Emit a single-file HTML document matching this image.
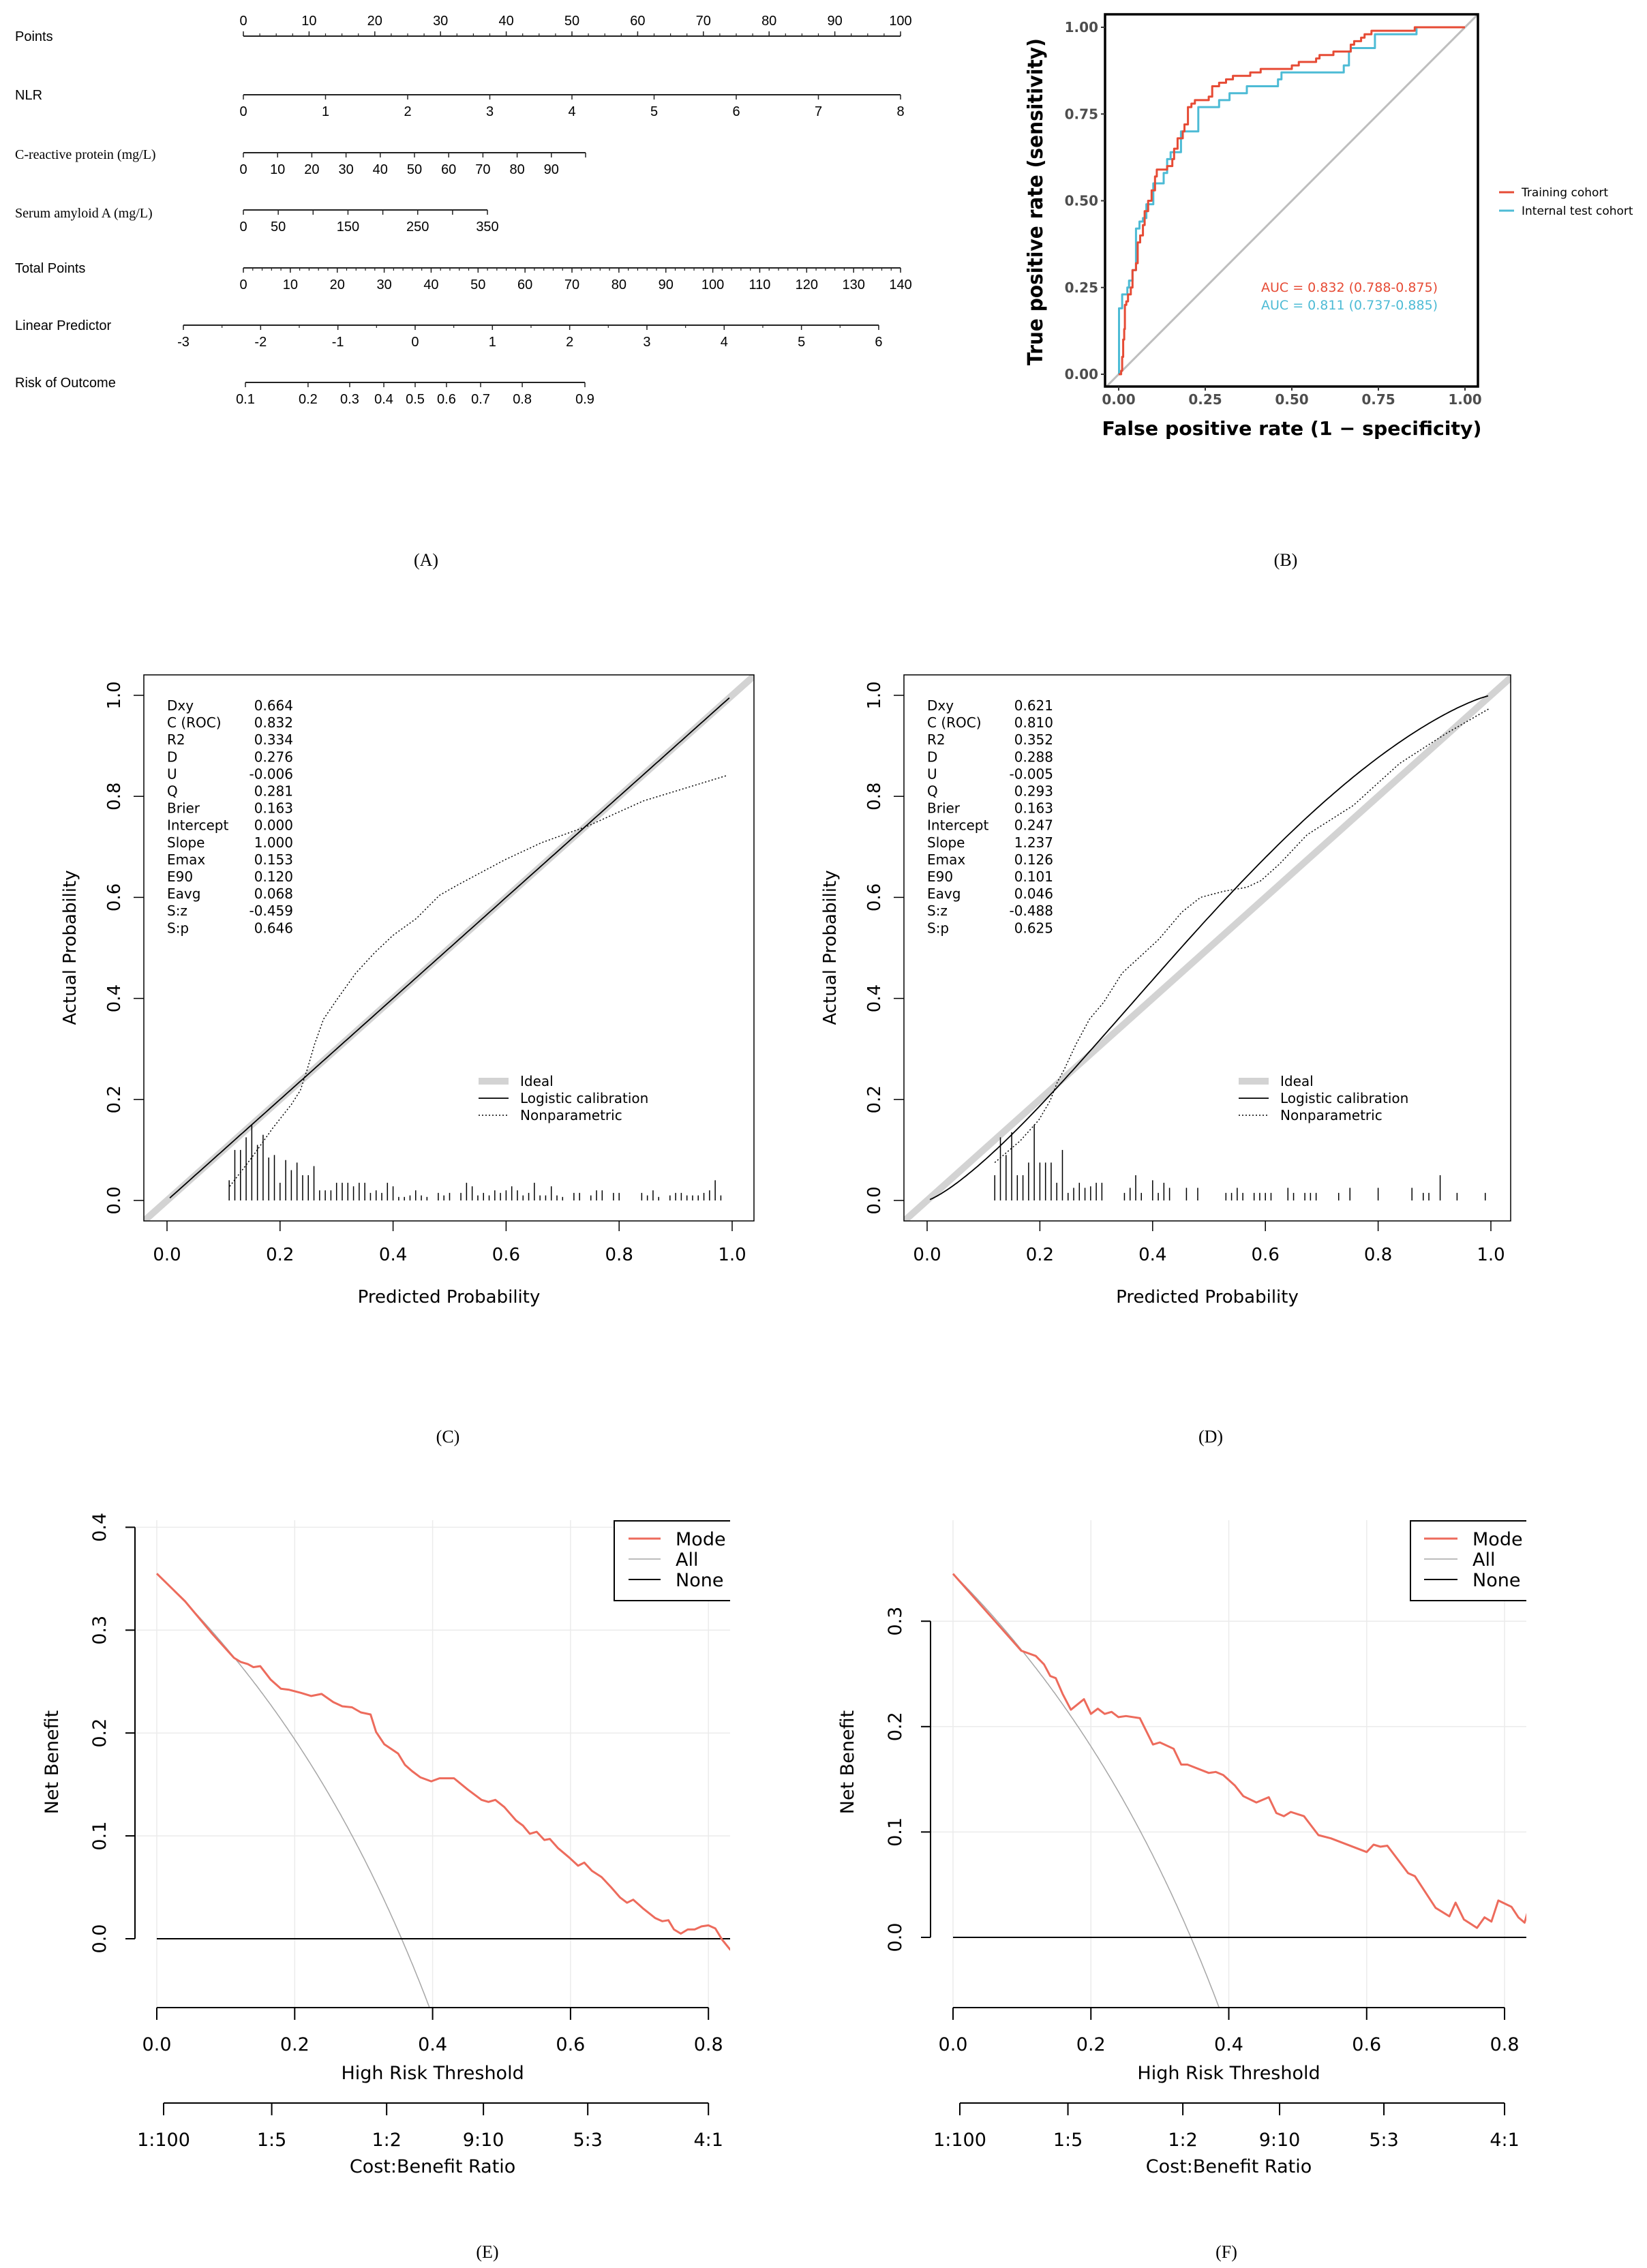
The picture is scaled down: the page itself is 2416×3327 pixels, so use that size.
<!DOCTYPE html>
<html><head><meta charset="utf-8"><title>Nomogram, ROC, calibration and decision curves</title>
<style>html,body{margin:0;padding:0;background:#fff;width:2416px;height:3327px;overflow:hidden;position:relative}#fig{position:absolute;left:0;top:0;display:block}</style></head>
<body><svg id="fig" xmlns="http://www.w3.org/2000/svg" width="2416" height="3327" viewBox="0 0 2416 3327">
<rect x="0" y="0" width="2416" height="3327" fill="#fff"/>
<defs>
<clipPath id="clipRoc"><rect x="1621" y="21" width="547" height="546"/></clipPath>
<clipPath id="clipC"><rect x="211" y="990" width="895" height="801"/></clipPath>
<clipPath id="clipD"><rect x="1326" y="990" width="890" height="801"/></clipPath>
<clipPath id="clipE"><rect x="198" y="2200" width="873" height="745"/></clipPath>
<clipPath id="clipF"><rect x="1365" y="2200" width="874" height="745"/></clipPath>
</defs>
</svg><script>
// ---------- DATA ----------
const pointsTicks=[0,10,20,30,40,50,60,70,80,90,100];
const nlrTicks=[0,1,2,3,4,5,6,7,8];
const crpTicks=[0,10,20,30,40,50,60,70,80,90];
const crpMax=100;
const saaTicks=[0,50,100,150,200,250,300,350];
const saaLabels=[0,50,150,250,350];
const totalTicks=[0,10,20,30,40,50,60,70,80,90,100,110,120,130,140];
const lpTicks=[-3,-2,-1,0,1,2,3,4,5,6];
const riskTicks=[0.1,0.2,0.3,0.4,0.5,0.6,0.7,0.8,0.9];
const rocTrainFpr=[0,0.007,0.01,0.013,0.016,0.018,0.022,0.027,0.035,0.04,0.05,0.055,0.062,0.07,0.075,0.085,0.095,0.105,0.11,0.135,0.14,0.155,0.16,0.17,0.185,0.19,0.2,0.21,0.22,0.26,0.27,0.29,0.31,0.33,0.37,0.38,0.41,0.48,0.5,0.52,0.55,0.57,0.58,0.62,0.66,0.67,0.68,0.7,0.71,0.73,0.85,0.855,1];
const rocTrainTpr=[0,0.01,0.05,0.1,0.13,0.2,0.21,0.23,0.25,0.3,0.32,0.38,0.4,0.43,0.47,0.5,0.53,0.57,0.59,0.59,0.6,0.62,0.65,0.68,0.7,0.72,0.77,0.78,0.79,0.8,0.83,0.84,0.85,0.86,0.86,0.87,0.88,0.88,0.89,0.9,0.9,0.91,0.92,0.93,0.93,0.95,0.96,0.97,0.98,0.99,0.99,1,1];
const rocTestFpr=[0,0.001,0.01,0.025,0.03,0.04,0.05,0.06,0.07,0.08,0.1,0.13,0.14,0.15,0.18,0.23,0.29,0.32,0.37,0.46,0.47,0.65,0.665,0.67,0.74,0.86,1];
const rocTestTpr=[0,0.19,0.23,0.25,0.27,0.3,0.42,0.44,0.45,0.49,0.55,0.58,0.62,0.64,0.7,0.77,0.79,0.81,0.83,0.85,0.87,0.89,0.93,0.94,0.98,1,1];
const statNames=["Dxy","C (ROC)","R2","D","U","Q","Brier","Intercept","Slope","Emax","E90","Eavg","S:z","S:p"];
const statsC=["0.664","0.832","0.334","0.276","-0.006","0.281","0.163","0.000","1.000","0.153","0.120","0.068","-0.459","0.646"];
const statsD=["0.621","0.810","0.352","0.288","-0.005","0.293","0.163","0.247","1.237","0.126","0.101","0.046","-0.488","0.625"];
const calTicks=[0,0.2,0.4,0.6,0.8,1.0];
const npCx=[0.111,0.15,0.187,0.22,0.236,0.248,0.261,0.277,0.302,0.334,0.367,0.4,0.441,0.482,0.515,0.597,0.662,0.744,0.843,0.99];
const npCy=[0.028,0.085,0.143,0.19,0.218,0.259,0.309,0.359,0.4,0.45,0.49,0.525,0.558,0.604,0.625,0.674,0.708,0.741,0.791,0.841];
const histCx=[0.11,0.12,0.13,0.14,0.15,0.16,0.17,0.18,0.19,0.2,0.21,0.22,0.23,0.24,0.25,0.26,0.27,0.28,0.29,0.3,0.31,0.32,0.33,0.34,0.35,0.36,0.37,0.38,0.39,0.4,0.41,0.42,0.43,0.44,0.45,0.46,0.48,0.49,0.5,0.52,0.53,0.54,0.55,0.56,0.57,0.58,0.59,0.6,0.61,0.62,0.63,0.64,0.65,0.66,0.67,0.68,0.69,0.7,0.72,0.73,0.75,0.76,0.77,0.79,0.8,0.84,0.85,0.86,0.87,0.89,0.9,0.91,0.92,0.93,0.94,0.95,0.96,0.97,0.98];
const histCh=[0.04,0.1,0.1,0.125,0.15,0.11,0.13,0.085,0.09,0.035,0.08,0.06,0.075,0.05,0.05,0.068,0.02,0.02,0.02,0.035,0.035,0.035,0.028,0.035,0.035,0.015,0.02,0.015,0.035,0.028,0.007,0.007,0.01,0.02,0.01,0.007,0.015,0.01,0.015,0.015,0.035,0.028,0.01,0.015,0.01,0.02,0.015,0.02,0.028,0.02,0.01,0.015,0.035,0.01,0.01,0.028,0.01,0.007,0.015,0.015,0.01,0.02,0.02,0.015,0.015,0.015,0.01,0.02,0.007,0.01,0.015,0.015,0.01,0.01,0.01,0.015,0.02,0.04,0.01];
const npDx=[0.12,0.165,0.198,0.218,0.231,0.243,0.264,0.288,0.313,0.346,0.378,0.411,0.452,0.485,0.526,0.567,0.592,0.625,0.674,0.756,0.838,0.92,0.996];
const npDy=[0.075,0.118,0.159,0.197,0.234,0.259,0.309,0.359,0.392,0.45,0.483,0.517,0.571,0.6,0.612,0.62,0.633,0.666,0.724,0.782,0.865,0.924,0.973];
const histDx=[0.12,0.13,0.14,0.15,0.16,0.17,0.18,0.19,0.2,0.21,0.22,0.23,0.24,0.25,0.26,0.27,0.28,0.29,0.3,0.31,0.35,0.36,0.37,0.38,0.4,0.41,0.42,0.43,0.46,0.48,0.53,0.54,0.55,0.56,0.58,0.59,0.6,0.61,0.64,0.65,0.67,0.68,0.69,0.73,0.75,0.8,0.86,0.88,0.89,0.91,0.94,0.99];
const histDh=[0.05,0.125,0.09,0.135,0.05,0.05,0.075,0.15,0.075,0.075,0.075,0.035,0.1,0.015,0.025,0.035,0.025,0.028,0.035,0.035,0.015,0.025,0.05,0.015,0.04,0.015,0.035,0.025,0.025,0.025,0.015,0.015,0.025,0.015,0.015,0.015,0.015,0.015,0.025,0.015,0.015,0.015,0.015,0.015,0.025,0.025,0.025,0.015,0.015,0.05,0.015,0.015];
const dcaXTicks=[0,0.2,0.4,0.6,0.8];
const cbLabels=["1:100","1:5","1:2","9:10","5:3","4:1"];
const cbThresh=[1/101,1/6,1/3,9/19,5/8,0.8];
const prevE=0.355;
const prevF=0.345;
const modelEt=[0,0.041,0.081,0.112,0.122,0.132,0.14,0.15,0.165,0.18,0.192,0.209,0.224,0.239,0.256,0.269,0.283,0.296,0.31,0.318,0.33,0.35,0.36,0.37,0.382,0.398,0.41,0.431,0.451,0.471,0.481,0.491,0.504,0.521,0.531,0.541,0.551,0.562,0.57,0.582,0.598,0.611,0.62,0.631,0.645,0.659,0.672,0.682,0.691,0.706,0.723,0.733,0.742,0.75,0.76,0.77,0.78,0.79,0.8,0.81,0.82,0.832];
const modelEnb=[0.355,0.328,0.296,0.273,0.269,0.267,0.264,0.265,0.252,0.243,0.242,0.239,0.236,0.238,0.23,0.226,0.225,0.22,0.218,0.201,0.189,0.18,0.169,0.163,0.157,0.153,0.156,0.156,0.145,0.135,0.133,0.135,0.128,0.115,0.11,0.102,0.104,0.096,0.097,0.088,0.079,0.071,0.074,0.066,0.06,0.05,0.04,0.035,0.038,0.029,0.02,0.017,0.018,0.009,0.005,0.009,0.009,0.012,0.013,0.01,-0.001,-0.011];
const modelFt=[0,0.099,0.12,0.132,0.141,0.149,0.159,0.171,0.19,0.2,0.21,0.22,0.23,0.24,0.251,0.271,0.29,0.3,0.32,0.331,0.34,0.371,0.381,0.392,0.409,0.421,0.44,0.458,0.469,0.48,0.49,0.509,0.53,0.548,0.6,0.61,0.62,0.63,0.66,0.67,0.7,0.72,0.729,0.741,0.76,0.771,0.781,0.791,0.81,0.82,0.829,0.833];
const modelFnb=[0.345,0.272,0.267,0.259,0.248,0.246,0.231,0.216,0.226,0.212,0.217,0.212,0.214,0.209,0.21,0.208,0.183,0.185,0.179,0.164,0.164,0.156,0.157,0.154,0.144,0.134,0.128,0.133,0.118,0.115,0.119,0.115,0.097,0.094,0.081,0.088,0.086,0.087,0.061,0.058,0.028,0.02,0.033,0.017,0.009,0.019,0.015,0.035,0.029,0.019,0.014,0.023];

// ---------- HELPERS ----------
const NS='http://www.w3.org/2000/svg';
const svg=document.getElementById('fig');
function add(tag,name){
  const el=document.createElementNS(NS,tag);
  
  
  svg.appendChild(el);
  return el;
}
function set(el,o){for(const k in o)el.setAttribute(k,o[k]);return el;}
function line(x1,y1,x2,y2,stroke,w,name,extra){
  const el=add('line',name);
  set(el,{x1:x1,y1:y1,x2:x2,y2:y2,stroke:stroke,'stroke-width':w});
  if(extra)set(el,extra);
  return el;
}
function txt(x,y,s,size,anchor,name,extra){
  const el=add('text',name);
  set(el,{x:x,y:y,'font-size':size,'text-anchor':anchor||'start','font-family':'"DejaVu Sans","Liberation Sans",sans-serif',fill:'#000'});
  if(extra)set(el,extra);
  el.textContent=s;
  return el;
}
function path(d,stroke,w,name,extra){
  const el=add('path',name);
  set(el,{d:d,stroke:stroke,'stroke-width':w,fill:'none','stroke-linejoin':'round'});
  if(extra)set(el,extra);
  return el;
}
function poly(xs,ys,fx,fy){return xs.map((v,i)=>(i?'L':'M')+fx(v).toFixed(1)+' '+fy(ys[i]).toFixed(1)).join(' ');}

// ---------- PANEL A ----------
const NF='"Liberation Sans","DejaVu Sans",sans-serif';
const SF='"Liberation Serif","DejaVu Serif",serif';
function rowLabel(y,s,name,serif){txt(22,y,s,20,'start',name,{'font-family':serif?SF:NF});}
function nomoAxis(y,ticks,labels,scale,name,up,minorStep,minorFrom,minorTo){
  const x0=scale(ticks[0]), x1=scale(ticks[ticks.length-1]);
  line(x0,y,x1,y,'#222',2,name+'-line');
  const d=up?-7:7;
  ticks.forEach(v=>{line(scale(v),y,scale(v),y+d,'#222',1.5,name+'-tick');});
  if(minorStep){for(let v=minorFrom;v<=minorTo+1e-9;v+=minorStep){line(scale(v),y,scale(v),y+(up?-4:4),'#222',1.2,name+'-minor-tick');}}
  labels.forEach(v=>{txt(scale(v),up?y-16:y+31,String(v),20,'middle',name+'-tick-label',{'font-family':NF});});
}
const sPts=v=>357+v*9.64;
const sNlr=v=>357+v*120.5;
const sCrp=v=>357+v*5.02;
const sSaa=v=>357+v*1.0229;
const sTot=v=>357+v*6.886;
const sLp=v=>269+(v+3)*113.33;
const sRisk=p=>sLp(Math.log(p/(1-p)));
rowLabel(60,'Points','points-row-label');
nomoAxis(53,pointsTicks,pointsTicks,sPts,'points-axis',true,2.5,0,100);
rowLabel(146,'NLR','nlr-row-label');
nomoAxis(139,nlrTicks,nlrTicks,sNlr,'nlr-axis',false);
rowLabel(233,'C-reactive protein (mg/L)','crp-row-label',true);
nomoAxis(224,crpTicks.concat([crpMax]),crpTicks,sCrp,'crp-axis',false);
rowLabel(319,'Serum amyloid A (mg/L)','saa-row-label',true);
nomoAxis(308,saaTicks,saaLabels,sSaa,'saa-axis',false);
rowLabel(400,'Total Points','total-points-row-label');
nomoAxis(393,totalTicks,totalTicks,sTot,'total-points-axis',false,2,0,140);
rowLabel(484,'Linear Predictor','linear-predictor-row-label');
nomoAxis(477,lpTicks,lpTicks,sLp,'linear-predictor-axis',false,0.5,-3,6);
rowLabel(568,'Risk of Outcome','risk-row-label');
nomoAxis(561,riskTicks,riskTicks,sRisk,'risk-axis',false);
txt(625,830,'(A)',26,'middle','panel-a-caption',{'font-family':SF});

// ---------- PANEL B ----------
const rx=v=>1641+v*508, ry=v=>549-v*509;
const RED='#e64b35', BLUE='#4dbbd5';
line(rx(-0.039),ry(-0.039),rx(1.039),ry(1.039),'#bebebe',3,'roc-diagonal',{'clip-path':'url(#clipRoc)'});
function stepPath(xs,ys){let d='M'+rx(xs[0]).toFixed(1)+' '+ry(ys[0]).toFixed(1);for(let i=1;i<xs.length;i++){d+=' H'+rx(xs[i]).toFixed(1)+' V'+ry(ys[i]).toFixed(1);}return d;}
path(stepPath(rocTestFpr,rocTestTpr),BLUE,3,'roc-internal-test-curve');
path(stepPath(rocTrainFpr,rocTrainTpr),RED,3,'roc-training-curve');
set(add('rect','roc-frame'),{x:1621,y:21,width:547,height:546,fill:'none',stroke:'#000','stroke-width':3.5});
const rocTicks=[0,0.25,0.5,0.75,1];
rocTicks.forEach(v=>{
  line(1615,ry(v),1621,ry(v),'#333',2,'roc-y-tick');
  txt(1611,ry(v)+7,v.toFixed(2),20,'end','roc-y-tick-label',{'font-weight':'bold',fill:'#4d4d4d'});
  line(rx(v),567,rx(v),573,'#333',2,'roc-x-tick');
  txt(rx(v),593,v.toFixed(2),20,'middle','roc-x-tick-label',{'font-weight':'bold',fill:'#4d4d4d'});
});
txt(1895,638,'False positive rate (1 \u2212 specificity)',28,'middle','roc-x-axis-title',{'font-weight':'bold',textLength:557,lengthAdjust:'spacingAndGlyphs'});
txt(0,0,'True positive rate (sensitivity)',30,'middle','roc-y-axis-title',{'font-weight':'bold',transform:'translate(1529,296) rotate(-90)',textLength:480,lengthAdjust:'spacingAndGlyphs'});
txt(1850,428,'AUC = 0.832 (0.788-0.875)',19,'start','auc-training-label',{fill:RED});
txt(1850,454,'AUC = 0.811 (0.737-0.885)',19,'start','auc-test-label',{fill:BLUE});
line(2199,282,2221,282,RED,3,'legend-training-line');
txt(2232,288,'Training cohort',17,'start','legend-training-label');
line(2199,309,2221,309,BLUE,3,'legend-test-line');
txt(2232,315,'Internal test cohort',17,'start','legend-test-label');
txt(1886,830,'(B)',26,'middle','panel-b-caption',{'font-family':SF});

// ---------- PANELS C & D ----------
function calPanel(o){
  const sx=v=>o.x0+v*o.xs, sy=v=>1761-v*741;
  line(sx(-0.045),sy(-0.045),sx(1.04),sy(1.04),'#d3d3d3',10,o.id+'-ideal-line',{'clip-path':'url(#'+o.clip+')'});
  const a=parseFloat(o.stats[7]), b=parseFloat(o.stats[8]);
  let d='';
  for(let i=1;i<=200;i++){const p=i/201;const lg=a+b*Math.log(p/(1-p));const q=1/(1+Math.exp(-lg));d+=(i>1?'L':'M')+sx(p).toFixed(1)+' '+sy(q).toFixed(1)+' ';}
  path(d,'#000',1.8,o.id+'-logistic-calibration',{'clip-path':'url(#'+o.clip+')'});
  path(poly(o.npx,o.npy,sx,sy),'#000',1.5,o.id+'-nonparametric-curve',{'stroke-dasharray':'2,3'});
  o.hx.forEach((v,i)=>{line(sx(v),sy(0),sx(v),sy(o.hh[i]),'#000',1.5,o.id+'-histogram-spike');});
  set(add('rect',o.id+'-frame'),{x:o.fl,y:990,width:o.fw,height:801,fill:'none',stroke:'#000','stroke-width':1.5});
  calTicks.forEach(v=>{
    line(sx(v),1791,sx(v),1806,'#000',1.5,o.id+'-x-tick');
    txt(sx(v),1849,v.toFixed(1),26,'middle',o.id+'-x-tick-label');
    line(o.fl,sy(v),o.fl-15,sy(v),'#000',1.5,o.id+'-y-tick');
    txt(0,0,v.toFixed(1),26,'middle',o.id+'-y-tick-label',{transform:'translate('+(o.fl-35)+','+sy(v).toFixed(1)+') rotate(-90)'});
  });
  txt((o.fl+o.fl+o.fw)/2,1911,'Predicted Probability',26,'middle',o.id+'-x-axis-title');
  txt(0,0,'Actual Probability',26,'middle',o.id+'-y-axis-title',{transform:'translate('+(o.fl-100)+',1390) rotate(-90)'});
  statNames.forEach((n,i)=>{
    txt(o.x0,1042+i*25.1,n,20,'start',o.id+'-stat-name');
    txt(o.x0+185,1042+i*25.1,o.stats[i],20,'end',o.id+'-stat-value');
  });
  const lx=o.x0+457;
  line(lx,1586,lx+44,1586,'#d3d3d3',10,o.id+'-legend-ideal-line');
  txt(lx+61,1593,'Ideal',20,'start',o.id+'-legend-ideal-label');
  line(lx,1611,lx+44,1611,'#000',1.8,o.id+'-legend-logistic-line');
  txt(lx+61,1618,'Logistic calibration',20,'start',o.id+'-legend-logistic-label');
  line(lx,1636,lx+44,1636,'#000',1.5,o.id+'-legend-nonparametric-line',{'stroke-dasharray':'2,3'});
  txt(lx+61,1643,'Nonparametric',20,'start',o.id+'-legend-nonparametric-label');
  txt(o.cap,2116,o.capText,26,'middle',o.id+'-caption',{'font-family':SF});
}
calPanel({id:'calibration-c',x0:245,xs:829,fl:211,fw:895,clip:'clipC',stats:statsC,npx:npCx,npy:npCy,hx:histCx,hh:histCh,cap:657,capText:'(C)'});
calPanel({id:'calibration-d',x0:1360,xs:827,fl:1326,fw:890,clip:'clipD',stats:statsD,npx:npDx,npy:npDy,hx:histDx,hh:histDh,cap:1776,capText:'(D)'});

// ---------- PANELS E & F ----------
const SALMON='#ed6b5c';
function dcaPanel(o){
  const sx=v=>o.x0+v*o.xs, sy=v=>o.y0-v*o.ys;
  const nbMin=(o.y0-2945)/o.ys;
  dcaXTicks.forEach(v=>line(sx(v),2230,sx(v),2945,'#ebebeb',1.5,o.id+'-grid-vertical'));
  o.yGrid.forEach(v=>line(o.axisX,sy(v),o.right,sy(v),'#ebebeb',1.5,o.id+'-grid-horizontal'));
  let d='';
  for(let i=0;i<=400;i++){
    const t=i/400*0.6;
    let nb=o.prev-(1-o.prev)*t/(1-t);
    if(nb<nbMin){
      const tEnd=(o.prev-nbMin)/(o.prev-nbMin+1-o.prev);
      d+='L'+sx(tEnd).toFixed(1)+' '+sy(nbMin).toFixed(1);
      break;
    }
    d+=(i?'L':'M')+sx(t).toFixed(1)+' '+sy(nb).toFixed(1)+' ';
  }
  path(d,'#a6a6a6',1.5,o.id+'-all-curve');
  line(sx(0),sy(0),o.right,sy(0),'#000',2,o.id+'-none-line');
  path(poly(o.mt,o.mnb,sx,sy),SALMON,3,o.id+'-model-curve',{'clip-path':'url(#'+o.clip+')'});
  line(o.axisX,sy(o.yTicks[0]),o.axisX,sy(o.yTicks[o.yTicks.length-1]),'#000',2,o.id+'-y-axis-line');
  o.yTicks.forEach(v=>{
    line(o.axisX-14,sy(v),o.axisX,sy(v),'#000',2,o.id+'-y-tick');
    txt(0,0,v.toFixed(1),27,'middle',o.id+'-y-tick-label',{transform:'translate('+(o.axisX-43)+','+sy(v).toFixed(1)+') rotate(-90)'});
  });
  txt(0,0,'Net Benefit',27,'middle',o.id+'-y-axis-title',{transform:'translate('+(o.axisX-113)+',2585) rotate(-90)'});
  line(sx(0),2945,sx(0.8),2945,'#000',2,o.id+'-x-axis-line');
  dcaXTicks.forEach(v=>{
    line(sx(v),2945,sx(v),2963,'#000',2,o.id+'-x-tick');
    txt(sx(v),3008,v.toFixed(1),27,'middle',o.id+'-x-tick-label');
  });
  txt(sx(0.4),3050,'High Risk Threshold',27,'middle',o.id+'-x-axis-title');
  line(sx(cbThresh[0]),3085,sx(cbThresh[5]),3085,'#000',2,o.id+'-cost-benefit-axis-line');
  cbThresh.forEach((t,i)=>{
    line(sx(t),3085,sx(t),3103,'#000',2,o.id+'-cost-benefit-tick');
    txt(sx(t),3148,cbLabels[i],27,'middle',o.id+'-cost-benefit-label');
  });
  txt(sx(0.4),3187,'Cost:Benefit Ratio',27,'middle',o.id+'-cost-benefit-title');
  const g=add('svg',o.id+'-legend');
  set(g,{x:o.legX,y:2230,width:o.right-o.legX,height:119,overflow:'hidden'});
  const r=document.createElementNS(NS,'rect');
  
  
  set(r,{x:1,y:1,width:o.right-o.legX+10,height:117,fill:'#fff',stroke:'#000','stroke-width':2});
  g.appendChild(r);
  const ent=[['Mode',SALMON,3],['All','#a6a6a6',1.5],['None','#000',2]];
  ent.forEach((e,i)=>{
    const ln=document.createElementNS(NS,'line');
    
    
    set(ln,{x1:o.legLine,y1:27+i*30,x2:o.legLine+o.legLen,y2:27+i*30,stroke:e[1],'stroke-width':e[2]});
    g.appendChild(ln);
    const t=document.createElementNS(NS,'text');
    
    
    set(t,{x:o.legText,y:37+i*30,'font-size':27,'font-family':'"DejaVu Sans","Liberation Sans",sans-serif',fill:'#000'});
    t.textContent=e[0];
    g.appendChild(t);
  });
  txt(o.cap,3312,o.capText,26,'middle',o.id+'-caption',{'font-family':SF});
}
dcaPanel({id:'dca-e',x0:230,xs:1011.5,y0:2844,ys:1509,axisX:198,right:1071,clip:'clipE',prev:prevE,mt:modelEt,mnb:modelEnb,yTicks:[0,0.1,0.2,0.3,0.4],yGrid:[0.1,0.2,0.3,0.4],legX:900,legLine:22,legLen:47,legText:91,cap:715,capText:'(E)'});
dcaPanel({id:'dca-f',x0:1398,xs:1011.3,y0:2842,ys:1546,axisX:1365,right:2239,clip:'clipF',prev:prevF,mt:modelFt,mnb:modelFnb,yTicks:[0,0.1,0.2,0.3],yGrid:[0.1,0.2,0.3],legX:2068,legLine:21,legLen:49,legText:92,cap:1799,capText:'(F)'});
</script></body></html>
